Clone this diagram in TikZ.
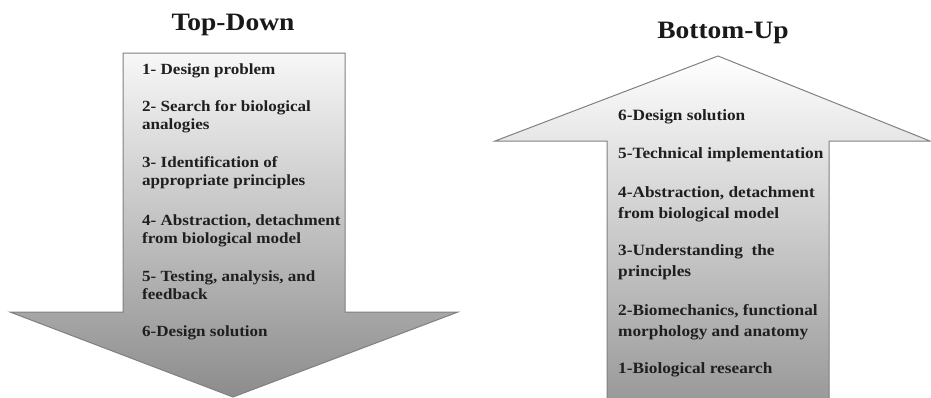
\documentclass[tikz,border=0pt]{standalone}
\usepackage{fontspec}
\setmainfont[FakeStretch=1.1]{Liberation Serif}
\begin{document}
\begin{tikzpicture}[x=1pt,y=-1pt,
  arrowshape/.style={draw=black!50, line width=1pt, line join=miter},
  title/.style={font=\fontsize{25}{30}\selectfont\bfseries, text=black!90, inner sep=0pt},
  itemL/.style={anchor=west, align=left, inner sep=0pt, text=black!88,
    font=\fontsize{15.5}{18}\selectfont\bfseries},
  itemR/.style={anchor=west, align=left, inner sep=0pt, text=black!88,
    font=\fontsize{15.7}{21}\selectfont\bfseries}]
\useasboundingbox (0,0) rectangle (931,397);
\begin{scope}
\clip (0,0) rectangle (931,397);
% left arrow (down)
\path[arrowshape, top color=white!97!black, middle color=black!16, bottom color=black!45]
  (123,53) -- (345,53) -- (345,312) -- (458,312) -- (233,397) -- (10,312) -- (123,312) -- cycle;
% right arrow (up)
\path[arrowshape, top color=white, middle color=black!14, bottom color=black!40]
  (718,56) -- (930,141) -- (829,141) -- (829,402) -- (607,402) -- (607,141) -- (495,141) -- cycle;
\end{scope}
\node[title] (tTD) at (233,25) {Top-Down};
\node[title] (tBU) at (723,33) {Bottom-Up};
% left items
\node[itemL] (l1) at (142,71) {1- Design problem};
\node[itemL] (l2) at (142,117) {2- Search for biological\\analogies};
\node[itemL] (l3) at (142,173) {3- Identification of\\appropriate principles};
\node[itemL] (l4) at (142,230.5) {4- Abstraction, detachment\\from biological model};
\node[itemL] (l5) at (142,285) {5- Testing, analysis, and\\feedback};
\node[itemL] (l6) at (142,333) {6-Design solution};
% right items
\node[itemR] (r6) at (618,117) {6-Design solution};
\node[itemR] (r5) at (618,155) {5-Technical implementation};
\node[itemR] (r4) at (618,204) {4-Abstraction, detachment\\from biological model};
\node[itemR] (r3) at (618,262.5) {3-Understanding~ the\\principles};
\node[itemR] (r2) at (618,322.5) {2-Biomechanics, functional\\morphology and anatomy};
\node[itemR] (r1) at (618,370) {1-Biological research};
\end{tikzpicture}
\end{document}
